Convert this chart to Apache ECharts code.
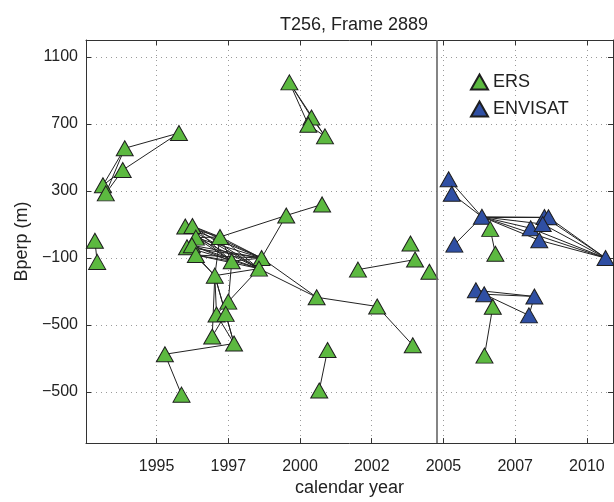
<!DOCTYPE html>
<html>
<head>
<meta charset="utf-8">
<script src="https://cdn.jsdelivr.net/npm/echarts@6/dist/echarts.min.js"></script>
<style>
html,body{margin:0;padding:0;background:#fff;}
#chart{width:614px;height:502px;}
</style>
</head>
<body>
<div id="chart"></div>
<script>
// ---- data ----
const titleText = 'T256, Frame 2889';
const xAxisName = 'calendar year';
const yAxisName = 'Bperp (m)';

const xTickValues = [1995, 1997.5, 2000, 2002.5, 2005, 2007.5, 2010];
const xTickLabels = ['1995', '1997', '2000', '2002', '2005', '2007', '2010'];
const yTickValues = [-900, -500, -100, 300, 700, 1100];
const yTickLabels = ['\u2212500', '\u2212500', '\u2212100', '300', '700', '1100'];

const sensorSwitchYear = 2004.75;

const ersDates = [1995.78, 1993.89, 1993.82, 1993.13, 1993.23, 1992.85, 1992.93,
  1996.00, 1996.25, 1996.37, 1996.06, 1996.23, 1996.37, 1997.21, 1997.62, 1998.66,
  1998.57, 1997.03, 1997.50, 1997.09, 1997.41, 1996.94, 1997.70, 1995.29, 1995.87,
  1999.52, 2000.77, 2000.58, 2000.96, 2000.67, 1999.63, 2000.40, 2000.29, 2000.87,
  2002.69, 2003.93, 2002.02, 2003.85, 2004.01, 2004.51, 2006.63, 2006.81, 2006.72, 2006.43];
const ersBperp = [645, 554, 424, 333, 285, 2, -124,
  87, 90, 21, -37, -25, -83, 25, -120, -101,
  -164, -206, -361, -438, -434, -569, -611, -675, -916,
  153, 219, -335, -650, -891, 947, 738, 694, 625,
  -390, -621, -170, -14, -110, -183, 73, -75, -391, -683];
const ersPairs = [[0,1],[0,2],[1,3],[1,4],[2,3],[2,4],[5,6],
  [7,13],[8,13],[9,13],[7,15],[8,15],[9,15],[10,15],[11,15],[12,15],[10,16],[11,16],
  [7,14],[8,14],[7,16],[8,16],[9,16],[12,16],
  [9,14],[11,14],[12,14],[13,15],[13,16],[13,17],[13,14],[14,15],[17,16],[12,17],[10,17],
  [17,19],[17,20],[17,21],[17,22],[18,16],[18,19],[18,20],[14,18],[19,22],[20,22],[20,21],
  [22,23],[23,24],[15,27],[16,27],[15,25],[13,25],[25,26],
  [30,31],[30,32],[30,33],[31,33],[32,33],
  [27,34],[34,35],[36,38],[28,29],[40,41],[42,43]];

const envDates = [2005.18, 2005.29, 2006.34, 2005.38, 2008.04, 2008.52, 2008.66,
  2008.46, 2008.34, 2010.65, 2006.13, 2006.42, 2008.17, 2007.98];
const envBperp = [369, 283, 145, -21, 77, 144, 142, 102, 5, -101, -293, -317, -330, -443];
const envPairs = [[0,2],[1,2],[2,3],[2,4],[2,5],[2,6],[2,7],[2,8],[2,9],
  [4,9],[5,9],[6,9],[7,9],[8,9],[10,12],[11,12],[11,13],[12,13]];

// ---- build ----
const FONT = '"Liberation Sans", Arial, Helvetica, sans-serif';
const ersColor = '#5cb940';
const envColor = '#2f4fa3';

function pts(d, b) { return d.map((x, i) => [x, b[i]]); }
function segs(d, b, pairs) {
  return pairs.map(p => ({ coords: [[d[p[0]], b[p[0]]], [d[p[1]], b[p[1]]]] }));
}
function lookup(vals, labs) {
  return function (v) {
    for (let i = 0; i < vals.length; i++) if (Math.abs(vals[i] - v) < 1e-6) return labs[i];
    return '';
  };
}

const xMin = 1992.54, xMax = 2010.91, yMin = -1205, yMax = 1200;
const gridLine = { show: true, lineStyle: { color: '#9a9a9a', type: [1, 4], width: 1 } };
const tickStyle = { show: true, inside: true, length: 5, lineStyle: { color: '#333' } };

const chart = echarts.init(document.getElementById('chart'), null, { renderer: 'canvas' });
chart.setOption({
  animation: false,
  backgroundColor: '#fff',
  textStyle: { fontFamily: FONT },
  title: {
    text: titleText, left: 349, top: 11, textAlign: 'center',
    textStyle: { fontFamily: FONT, fontSize: 18, fontWeight: 'normal', color: '#222' }
  },
  legend: {
    orient: 'vertical', left: 465, top: 68, itemGap: 9,
    itemWidth: 17, itemHeight: 15, icon: 'triangle',
    textStyle: { fontFamily: FONT, fontSize: 18, color: '#222' },
    data: ['ERS', 'ENVISAT']
  },
  grid: { left: 86, right: 1, top: 40, bottom: 46, show: false },
  xAxis: [{
    type: 'value', min: xMin, max: xMax,
    name: xAxisName, nameLocation: 'middle', nameGap: 28,
    nameTextStyle: { fontFamily: FONT, fontSize: 18, color: '#222' },
    axisLine: { show: true, onZero: false, lineStyle: { color: '#333', width: 1 } },
    axisTick: Object.assign({ customValues: xTickValues }, tickStyle),
    axisLabel: { customValues: xTickValues, formatter: lookup(xTickValues, xTickLabels),
      fontFamily: FONT, fontSize: 16, color: '#222', margin: 15 },
    splitLine: gridLine
  }, {
    type: 'value', min: xMin, max: xMax, position: 'top',
    axisLine: { show: true, onZero: false, lineStyle: { color: '#333', width: 1 } },
    axisTick: Object.assign({ customValues: xTickValues }, tickStyle),
    axisLabel: { show: false }, splitLine: { show: false }
  }],
  yAxis: [{
    type: 'value', min: yMin, max: yMax,
    name: yAxisName, nameLocation: 'middle', nameGap: 52, nameRotate: 90,
    nameTextStyle: { fontFamily: FONT, fontSize: 18, color: '#222' },
    axisLine: { show: true, onZero: false, lineStyle: { color: '#333', width: 1 } },
    axisTick: Object.assign({ customValues: yTickValues }, tickStyle),
    axisLabel: { customValues: yTickValues, formatter: lookup(yTickValues, yTickLabels),
      fontFamily: FONT, fontSize: 16, color: '#222', margin: 8 },
    splitLine: gridLine
  }, {
    type: 'value', min: yMin, max: yMax, position: 'right',
    axisLine: { show: true, onZero: false, lineStyle: { color: '#333', width: 1 } },
    axisTick: Object.assign({ customValues: yTickValues }, tickStyle),
    axisLabel: { show: false }, splitLine: { show: false }
  }],
  series: [
    {
      type: 'lines', coordinateSystem: 'cartesian2d', z: 2, silent: true,
      lineStyle: { color: '#222', width: 1, opacity: 1 },
      data: segs(envDates, envBperp, envPairs)
    },
    {
      type: 'lines', coordinateSystem: 'cartesian2d', z: 2, silent: true,
      lineStyle: { color: '#222', width: 1, opacity: 1 },
      data: segs(ersDates, ersBperp, ersPairs),
      markLine: {
        silent: true, symbol: 'none', label: { show: false },
        lineStyle: { color: '#666', width: 1.6, type: 'solid' },
        data: [{ xAxis: sensorSwitchYear }]
      }
    },
    {
      name: 'ENVISAT', type: 'scatter', z: 3, symbol: 'triangle', symbolSize: [17, 15],
      clip: false,
      itemStyle: { color: envColor, borderColor: '#1e1e1e', borderWidth: 1, opacity: 1 },
      data: pts(envDates, envBperp)
    },
    {
      name: 'ERS', type: 'scatter', z: 4, symbol: 'triangle', symbolSize: [17, 15],
      clip: false,
      itemStyle: { color: ersColor, borderColor: '#1e1e1e', borderWidth: 1, opacity: 1 },
      data: pts(ersDates, ersBperp)
    }
  ]
});
</script>
</body>
</html>
